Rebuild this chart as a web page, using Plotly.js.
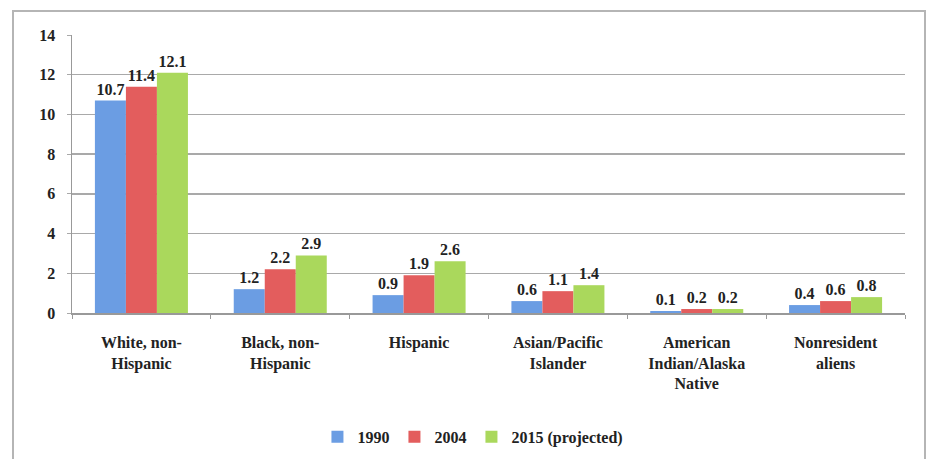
<!DOCTYPE html>
<html><head><meta charset="utf-8">
<script src="https://cdn.plot.ly/plotly-3.0.1.min.js"></script>
<style>
html,body{margin:0;padding:0;background:#fff;}
#wrap{position:relative;width:931px;height:459px;}
#chart{width:931px;height:459px;}
#frame{position:absolute;left:12px;top:10px;width:914px;height:460px;border:2px solid #b5b5b5;box-sizing:border-box;pointer-events:none;}
</style></head>
<body>
<div id="wrap"><div id="chart"></div><div id="frame"></div></div>
<script>
const categories = ["White, non-<br>Hispanic","Black, non-<br>Hispanic","Hispanic","Asian/Pacific<br>Islander","American<br>Indian/Alaska<br>Native","Nonresident<br>aliens"];
const seriesNames = ["1990","2004","2015 (projected)"];
const v1990 = [10.7,1.2,0.9,0.6,0.1,0.4];
const v2004 = [11.4,2.2,1.9,1.1,0.2,0.6];
const v2015 = [12.1,2.9,2.6,1.4,0.2,0.8];
const colors = ["#6b9de3","#e35d5d","#aad85c"];
const F = "'Liberation Serif', 'Times New Roman', serif";
const vals = [v1990,v2004,v2015];
const traces = vals.map((v,i)=>({
  type:"bar", name:seriesNames[i], x:categories, y:v,
  marker:{color:colors[i]},
  text:v.map(d=>d.toFixed(1)), textposition:"outside", cliponaxis:false,
  textfont:{family:F,size:16,color:"#222",weight:"bold"}
}));
const layout = {
  width:931,height:459,
  margin:{l:72,r:26,t:35,b:146},
  paper_bgcolor:"#fff",plot_bgcolor:"#fff",
  barmode:"group",bargap:0.33,bargroupgap:0,
  font:{family:F,size:16,color:"#222",weight:"bold"},
  xaxis:{type:"category",tickson:"boundaries",ticks:"outside",ticklen:4,tickcolor:"#999",
    showline:true,linecolor:"#999",linewidth:1.5,showgrid:false,automargin:false,
    ticklabelstandoff:14,
    tickfont:{family:F,size:16,color:"#222",weight:"bold"}},
  yaxis:{range:[0,14],dtick:2,showgrid:true,gridcolor:"#a9a9a9",gridwidth:1.5,automargin:false,
    showline:true,linecolor:"#999",linewidth:1.5,ticks:"outside",ticklen:4,tickcolor:"#a9a9a9",
    ticklabelstandoff:8,
    zeroline:false,tickfont:{family:F,size:16,color:"#222",weight:"bold"}},
  legend:{orientation:"h",xref:"container",yref:"container",x:0.508,xanchor:"center",y:0.048,yanchor:"middle",
    font:{family:F,size:16,color:"#222",weight:"bold"},itemwidth:30,traceorder:"normal"},
  showlegend:true
};
Plotly.newPlot("chart",traces,layout,{displayModeBar:false,staticPlot:true});
</script>
</body></html>
